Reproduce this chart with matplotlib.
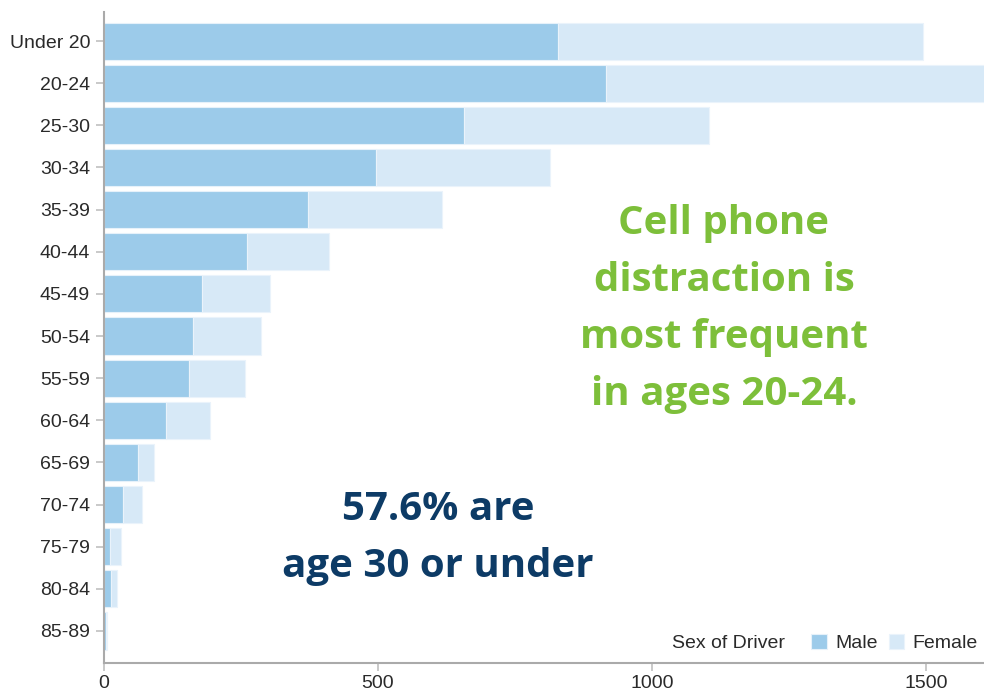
import numpy as np
import matplotlib.pyplot as plt

# Data
age_groups = ["Under 20", "20-24", "25-30", "30-34", "35-39", "40-44", "45-49",
              "50-54", "55-59", "60-64", "65-69", "70-74", "75-79", "80-84", "85-89"]
male = [828, 916, 657, 496, 372, 261, 179, 162, 155, 113, 62, 35, 11, 13, 4]
female = [667, 700, 447, 318, 245, 150, 124, 124, 102, 80, 29, 34, 20, 11, 2]

male_color = "#9ccbea"
female_color = "#d7e9f7"
axis_grey = "#aaaaaa"
label_font = "Liberation Sans"

fig = plt.figure(figsize=(9.84, 6.96), dpi=100)
ax = fig.add_axes([104 / 984, 1 - 663 / 696, 1 - 104 / 984, (663 - 12) / 696])

y = np.arange(len(age_groups))
ax.barh(y, male, height=0.88, color=male_color, edgecolor="#e6f1fa", linewidth=0.8, label="Male")
ax.barh(y, female, left=male, height=0.88, color=female_color, edgecolor="#eaf3fb",
        linewidth=0.8, label="Female")

ax.set_xlim(0, 1606)
ax.set_ylim(len(age_groups) - 1 + 0.76, -0.69)
ax.set_yticks(y)
ax.set_yticklabels(age_groups)
ax.set_xticks([0, 500, 1000, 1500])

for side in ["top", "right"]:
    ax.spines[side].set_visible(False)
for side in ["left", "bottom"]:
    ax.spines[side].set_color(axis_grey)
    ax.spines[side].set_linewidth(1.5)
ax.tick_params(axis="both", colors="#c0c0c0", length=6, width=1.2, labelcolor="#2a2a2a",
               labelsize=14)
ax.tick_params(axis="y", pad=4)
ax.tick_params(axis="x", pad=3)
for lbl in ax.get_xticklabels() + ax.get_yticklabels():
    lbl.set_family(label_font)

# legend
fig.text(785 / 984, 1 - 643 / 696, "Sex of Driver", ha="right", va="center",
         fontsize=14, family=label_font, color="#2a2a2a")
leg = ax.legend(loc="center left", bbox_to_anchor=(811 / 984, 1 - 643 / 696),
                bbox_transform=fig.transFigure, ncol=2, frameon=False,
                handlelength=0.8, handleheight=0.8, handletextpad=0.45, columnspacing=0.55,
                borderaxespad=0, borderpad=0,
                prop={"family": label_font, "size": 14})
for t in leg.get_texts():
    t.set_color("#2a2a2a")

# annotations
fig.text(724 / 984, 1 - 309 / 696,
         "Cell phone\ndistraction is\nmost frequent\nin ages 20-24.",
         ha="center", va="center", fontsize=29, fontweight="bold", family="Open Sans",
         color="#7dbf3a", linespacing=1.61)
fig.text(438 / 984, 1 - 538 / 696, "57.6% are\nage 30 or under",
         ha="center", va="center", fontsize=29, fontweight="bold", family="Open Sans",
         color="#0d3b66", linespacing=1.61)

fig.savefig("out.png", dpi=100)
